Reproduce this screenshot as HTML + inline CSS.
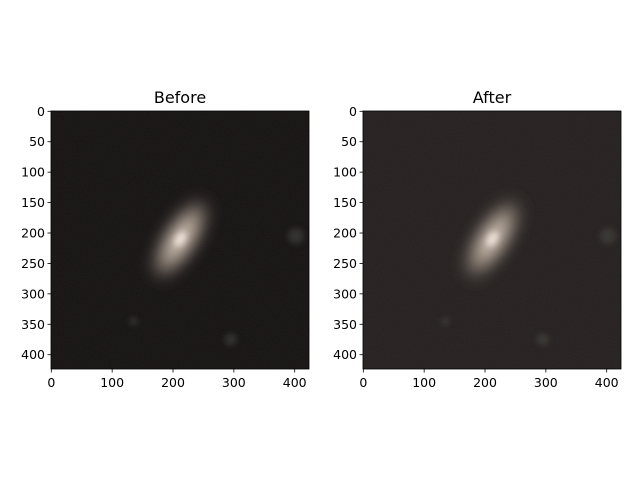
<!DOCTYPE html>
<html><head><meta charset="utf-8"><style>
html,body{margin:0;padding:0;background:#fff;}
svg text{font-family:"DejaVu Sans","Liberation Sans",sans-serif;}
</style></head><body>
<svg id="fig" width="640" height="480" viewBox="0 0 640 480" xmlns="http://www.w3.org/2000/svg">
<defs>
<filter id="blurG" x="-50%" y="-50%" width="200%" height="200%"><feGaussianBlur stdDeviation="8"/></filter>
<filter id="blurS" x="-50%" y="-50%" width="200%" height="200%"><feGaussianBlur stdDeviation="3"/></filter>
<filter id="noise"><feTurbulence type="fractalNoise" baseFrequency="0.9" numOctaves="1" seed="3"/><feColorMatrix type="matrix" values="0 0 0 0 0.3  0 0 0 0 0.25  0 0 0 0 0.25  0 0 0 0.12 0"/></filter>
<radialGradient id="core"><stop offset="0" stop-color="#f4e6dc"/><stop offset="0.35" stop-color="#c4b5a7"/><stop offset="0.75" stop-color="#6a6058"/><stop offset="1" stop-color="#3a3432" stop-opacity="0"/></radialGradient>
</defs>
</svg>
<script>
const panelTitles=["Before","After"];
const panelBg=["#141111","#231f1e"];
const imgSize=424;
const xTicks=[0,100,200,300,400];
const yTicks=[0,50,100,150,200,250,300,350,400];
const galaxyCenter=[212,210];
const galaxyAxes=[82,30];
const galaxyAngle=-58;
const srcX=[402,295,135];
const srcY=[205,375,345];
const srcR=[8,6,4];

const NS="http://www.w3.org/2000/svg";
const svg=document.getElementById('fig');
const axLeft=[51,363], axTop=111, axW=258, axH=258;
function mk(t,a,p){const e=document.createElementNS(NS,t);for(const k in a)e.setAttribute(k,a[k]);(p||svg).appendChild(e);return e;}
panelTitles.forEach((title,i)=>{
  const x0=axLeft[i];
  const sx=v=>x0+(v+0.5)/imgSize*axW;
  const sy=v=>axTop+(v+0.5)/imgSize*axH;
  const s=axW/imgSize;
  const g=mk('g',{});
  
  
  const clip=mk('clipPath',{id:'c'+i},svg);mk('rect',{x:x0,y:axTop,width:axW,height:axH},clip);
  const img=mk('g',{'clip-path':'url(#c'+i+')'},g);
  
  
  mk('rect',{x:x0,y:axTop,width:axW,height:axH,fill:panelBg[i]},img);
  mk('rect',{x:x0,y:axTop,width:axW,height:axH,filter:'url(#noise)'},img);
  const cx=sx(galaxyCenter[0]),cy=sy(galaxyCenter[1]);
  const gal=mk('ellipse',{cx:cx,cy:cy,rx:galaxyAxes[0]*s,ry:galaxyAxes[1]*s,fill:'url(#core)',filter:'url(#blurG)',transform:`rotate(${galaxyAngle} ${cx} ${cy})`},img);
  
  
  mk('ellipse',{cx:cx,cy:cy,rx:13*s,ry:8*s,fill:'#f6ebe2',opacity:0.8,filter:'url(#blurS)',transform:`rotate(${galaxyAngle} ${cx} ${cy})`},img);
  srcX.forEach((v,j)=>{
    const c=mk('circle',{cx:sx(v),cy:sy(srcY[j]),r:srcR[j],fill:'#4a4a44',opacity:0.55,filter:'url(#blurS)'},img);
    
    
  });
  mk('rect',{x:x0,y:axTop,width:axW,height:axH,fill:'none',stroke:'#000','stroke-width':0.8},g);
  xTicks.forEach(v=>{
    const x=sx(v);
    mk('line',{x1:x,x2:x,y1:axTop+axH,y2:axTop+axH+3.5,stroke:'#000','stroke-width':0.8},g);
    const t=mk('text',{x:x,y:axTop+axH+18,'font-size':12.5,'text-anchor':'middle',fill:'#000'},g);
    t.textContent=v;
    
    
  });
  yTicks.forEach(v=>{
    const y=sy(v);
    mk('line',{x1:x0-3.5,x2:x0,y1:y,y2:y,stroke:'#000','stroke-width':0.8},g);
    const t=mk('text',{x:x0-6,y:y+4.5,'font-size':12.5,'text-anchor':'end',fill:'#000'},g);
    t.textContent=v;
    
    
  });
  const tt=mk('text',{x:x0+axW/2,y:axTop-8,'font-size':16,'text-anchor':'middle',fill:'#000'},g);
  tt.textContent=title;
  
  
});
</script>
</body></html>
